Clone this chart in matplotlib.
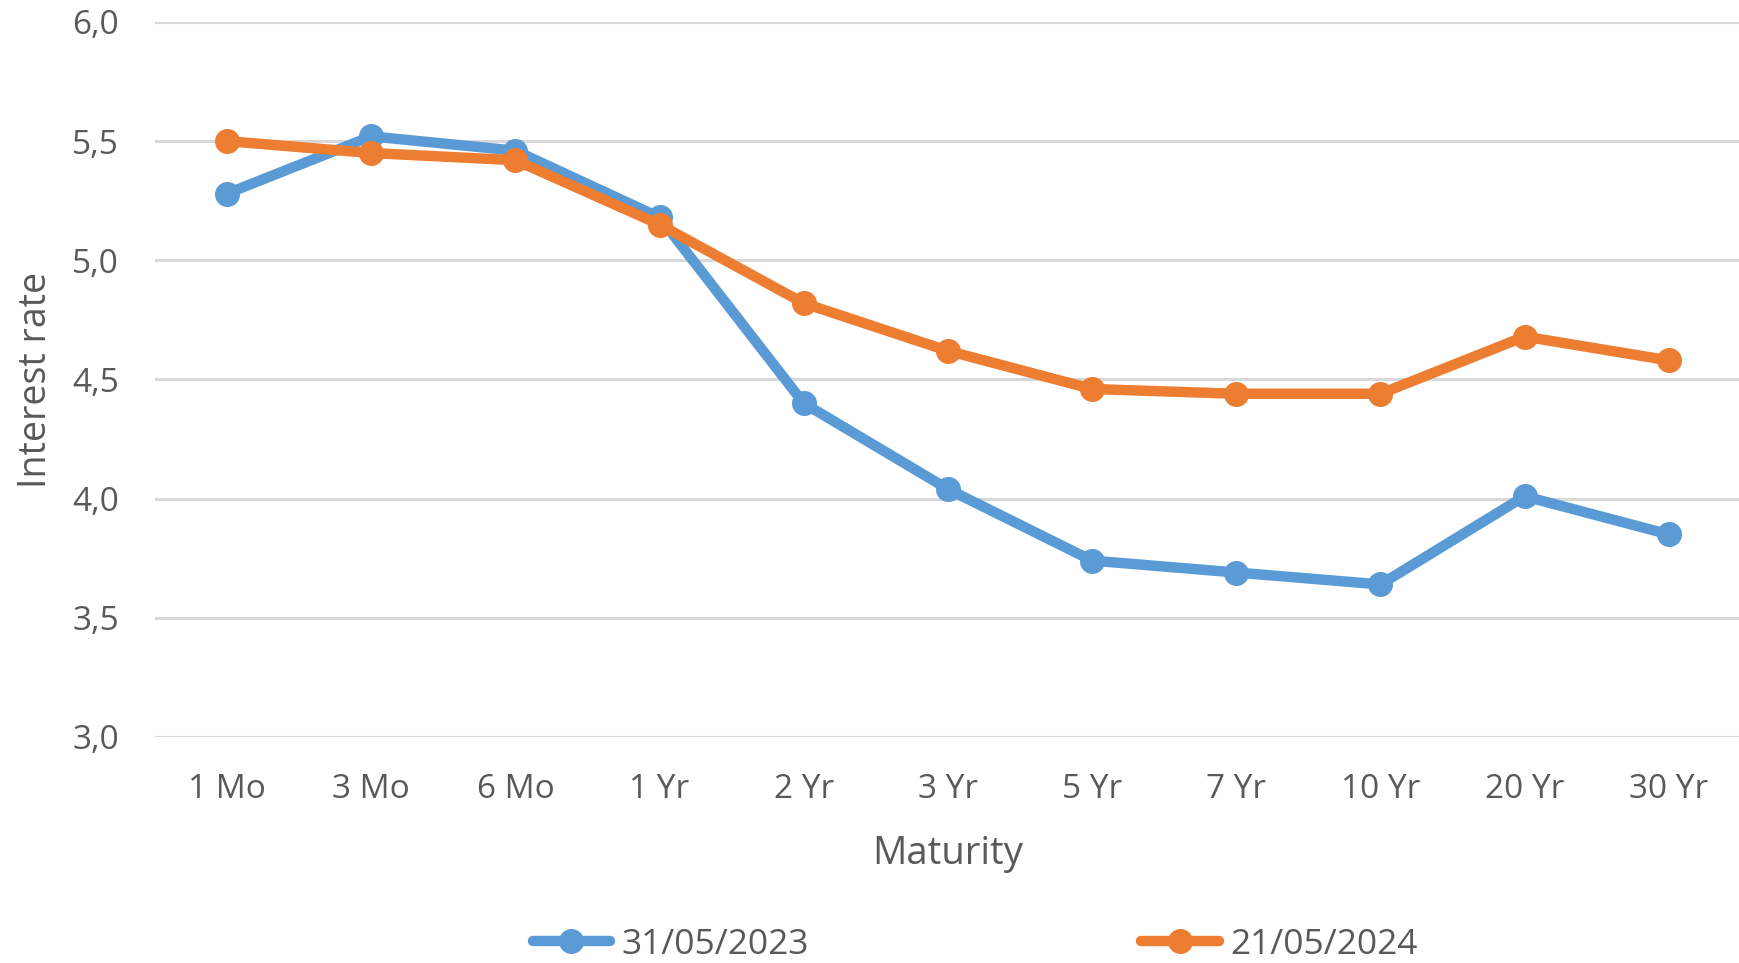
import matplotlib
matplotlib.use("Agg")
import matplotlib.pyplot as plt

maturities = ["1 Mo", "3 Mo", "6 Mo", "1 Yr", "2 Yr", "3 Yr", "5 Yr", "7 Yr", "10 Yr", "20 Yr", "30 Yr"]
rates_2023 = [5.28, 5.52, 5.46, 5.18, 4.40, 4.04, 3.74, 3.69, 3.64, 4.01, 3.85]
rates_2024 = [5.50, 5.45, 5.42, 5.15, 4.82, 4.62, 4.46, 4.44, 4.44, 4.68, 4.58]
series_labels = ["31/05/2023", "21/05/2024"]
y_ticks = [3.0, 3.5, 4.0, 4.5, 5.0, 5.5, 6.0]

plt.rcParams["font.family"] = ["Open Sans", "DejaVu Sans"]

text_col = "#595959"
blue = "#5B9BD5"
orange = "#ED7D31"

fig = plt.figure(figsize=(17.39, 9.63), dpi=100)
ax = fig.add_axes([0.0891, 0.2347, 0.912, 0.7425])

x = list(range(len(maturities)))
ax.plot(x, rates_2023, color=blue, lw=7.5, marker="o", ms=17, label=series_labels[0], solid_capstyle="round")
ax.plot(x, rates_2024, color=orange, lw=7.5, marker="o", ms=17, label=series_labels[1], solid_capstyle="round")

ax.set_xlim(-0.5, len(maturities) - 0.5)
ax.set_ylim(3.0, 6.0)
ax.set_yticks(y_ticks)
ax.set_yticklabels([f"{v:.1f}".replace(".", ",") for v in y_ticks])
ax.set_xticks(x)
ax.set_xticklabels(maturities)
ax.tick_params(axis="y", length=0, pad=26, labelsize=24, labelcolor=text_col)
ax.tick_params(axis="x", length=0, pad=26, labelsize=24, labelcolor=text_col)
ax.grid(axis="y", color="#D9D9D9", lw=2.2)
ax.set_axisbelow(True)
for s in ax.spines.values():
    s.set_visible(False)

ax.set_xlabel("Maturity", fontsize=27.5, color=text_col, labelpad=21)
ax.set_ylabel("Interest rate", fontsize=27, color=text_col, labelpad=12)

fig.legend(loc="center", bbox_to_anchor=(0.5606, 0.019), ncol=2, frameon=False,
           fontsize=25.5, labelcolor=text_col, handlelength=2.2, handletextpad=0.3,
           columnspacing=9.4)

fig.savefig("out.png", dpi=100)
